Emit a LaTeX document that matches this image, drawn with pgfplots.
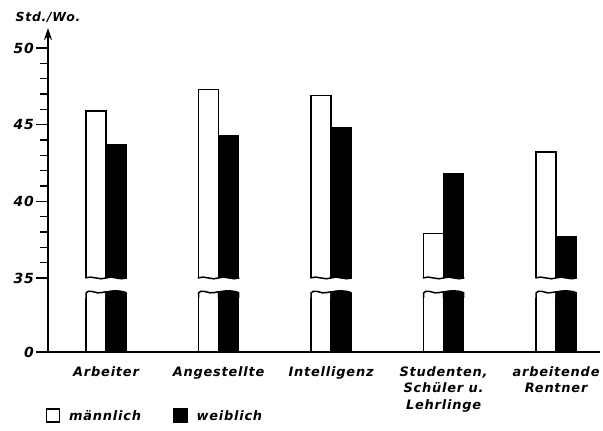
\documentclass[border=0pt]{standalone}
\usepackage{fontspec}
\setmainfont{DejaVu Sans}
\newfontfamily\hand[LetterSpace=6]{DejaVu Sans}
\usepackage{pgfplots}
\pgfplotsset{compat=1.18}
\usetikzlibrary{arrows.meta}
\begin{document}
\begin{tikzpicture}
\path[use as bounding box] (-48bp,-79bp) rectangle (555bp,352bp);
\begin{axis}[
  at={(0,0)}, anchor=south west, scale only axis,
  width=552bp, height=324bp,
  xmin=-0.516, xmax=4.39, ymin=30.17, ymax=51.3,
  axis x line=bottom, axis y line=left,
  x axis line style={-, line width=1.5bp},
  y axis line style={-{Stealth[length=12bp,width=8bp]}, line width=1.6bp},
  ybar=0pt, bar width=20bp,
  xtick={0,1,2,3,4},
  xticklabels={Arbeiter, Angestellte, Intelligenz, {Studenten,\\Schüler u.\\Lehrlinge}, {arbeitende\\Rentner}},
  xtick style={draw=none},
  xticklabel style={align=center, font=\hand\bfseries\itshape\fontsize{13}{17}\selectfont, inner sep=2bp},
  ytick={30.17,35,40,45,50}, yticklabels={0,35,40,45,50},
  minor ytick={36,37,38,39,41,42,43,44,46,47,48,49},
  ytick style={line width=1.5bp, black},
  minor tick style={line width=1.5bp, black},
  tick align=outside, major tick length=12bp, minor tick length=8bp,
  yticklabel style={font=\hand\bfseries\itshape\fontsize{14}{17}\selectfont, inner sep=2bp},
  legend style={at={(-0.01,-0.198)}, anchor=west, draw=none, fill=none,
    legend columns=2, font=\hand\bfseries\itshape\fontsize{13}{17}\selectfont,
    /tikz/every even column/.append style={column sep=30bp}},
  legend image code/.code={\draw[#1] (0bp,-6bp) rectangle (13bp,7bp); \path (20bp,0bp);},
]
\addplot[fill=white, draw=black, line width=1.5bp] coordinates {(0,45.9) (1,47.3) (2,46.9) (3,37.9) (4,43.2)};
\addplot[fill=black, draw=black, line width=1.5bp] coordinates {(0,43.7) (1,44.3) (2,44.8) (3,41.8) (4,37.7)};
\legend{männlich, weiblich}
\pgfplotsinvokeforeach{0,1,2,3,4}{
  \begin{scope}[shift={(axis cs:#1,35)}, x=1bp, y=1bp]
    \fill[white] (-21,0) .. controls (-14,3) and (-6,-3) .. (0,0) .. controls (6,3) and (14,-3) .. (21,0) -- (21,-20) -- (-21,-20) -- cycle;
    \fill[white] (-20,-20) -- (-20,-15) .. controls (-19,-13) and (-17,-13) .. (-14,-13.5) .. controls (-10,-14.3) and (-7,-16) .. (-4,-14.6) .. controls (-2,-14) and (-1,-14) .. (0,-14) -- (0,-20) -- cycle;
    \draw[line width=1.5bp] (-20,-20) -- (-20,-15) .. controls (-19,-13) and (-17,-13) .. (-14,-13.5) .. controls (-10,-14.3) and (-7,-16) .. (-4,-14.6) .. controls (-2,-14) and (-1,-14) .. (0,-14) -- (0,-20);
    \fill[black] (-0.75,-20) -- (-0.75,-14) .. controls (3,-11.5) and (17,-11.5) .. (20.75,-14.5) -- (20.75,-20) -- cycle;
    \draw[line width=1.5bp] (-20.75,0) .. controls (-14,3) and (-6,-3) .. (0,0) .. controls (6,3) and (14,-3) .. (20.75,0);
  \end{scope}
}
\end{axis}
\node[anchor=south, font=\hand\bfseries\itshape\fontsize{12.5}{15}\selectfont, inner sep=0pt] at (0bp,324bp) [yshift=5bp] {Std./Wo.};
\end{tikzpicture}
\end{document}
